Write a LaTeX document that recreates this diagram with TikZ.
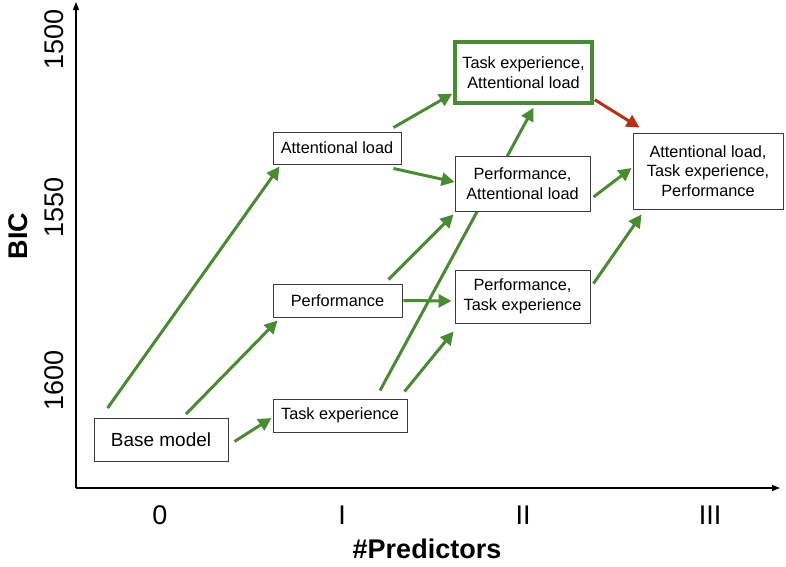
\documentclass[tikz,border=0pt]{standalone}
\usepackage{fontspec}
\setmainfont{Liberation Sans}
\usetikzlibrary{arrows.meta,calc,backgrounds}
\definecolor{arrowgreen}{RGB}{74,138,52}
\definecolor{arrowred}{RGB}{178,50,24}
\definecolor{boxline}{RGB}{60,60,60}
\begin{document}
\begin{tikzpicture}[x=1pt,y=-1pt,
  model/.style={draw=boxline, line width=0.9pt, fill=white, align=center, inner sep=0pt, font=\fontsize{16.3}{19.5}\selectfont},
  best/.style={model, draw=arrowgreen, line width=3.5pt},
  link/.style={draw=arrowgreen, line width=3pt, -{Triangle[length=13pt,width=13pt]}},
  worse/.style={link, draw=arrowred},
  axis/.style={line width=1.3pt, -{Triangle[length=8pt,width=6pt]}},
  tick/.style={font=\fontsize{27}{27}\selectfont},
  axislabel/.style={font=\bfseries\fontsize{27}{27}\selectfont}]
\useasboundingbox (0,0) rectangle (786,566);
\coordinate (o) at (76,488);
\coordinate (ytop) at (76,2);
\coordinate (xend) at (780,488);
\draw[axis] (o) -- (ytop);
\draw[axis] (o) -- (xend);
\node[tick, rotate=90] (y1500) at (54,39) {1500};
\node[tick, rotate=90] (y1550) at (54,207) {1550};
\node[tick, rotate=90] (y1600) at (54,380) {1600};
\node[axislabel, rotate=90] (bic) at (18,236) {BIC};
\node[tick] (x0) at (160,515) {0};
\node[tick] (x1) at (342,515) {I};
\node[tick] (x2) at (523,515) {II};
\node[tick] (x3) at (710,515) {III};
\node[axislabel, anchor=base] (npred) at (427,558) {\#Predictors};
\node[model, minimum width=134pt, minimum height=43pt, font=\fontsize{19}{22}\selectfont] (base) at (161,440) {Base model};
\node[model, minimum width=134pt, minimum height=33pt] (te) at (340,415.5) {Task experience};
\node[model, minimum width=129pt, minimum height=33pt] (perf) at (337.5,300.5) {Performance};
\node[model, minimum width=128pt, minimum height=32pt] (al) at (337,148) {Attentional load};
\node[best, minimum width=137pt, minimum height=61pt] (teal) at (523.5,72.5) {Task experience,\\Attentional load};
\node[model, minimum width=135pt, minimum height=55pt] (pal) at (522.5,183.5) {Performance,\\Attentional load};
\node[model, minimum width=135pt, minimum height=53pt] (pte) at (522.5,296.5) {Performance,\\Task experience};
\node[model, minimum width=150pt, minimum height=76pt] (all) at (708,171) {Attentional load,\\Task experience,\\Performance};
\draw[link] ($(base.north west)+(14,-10)$) -- ($(al.south west)+(7,2)$);
\draw[link] ($(base.north)+(25,-4)$) -- ($(perf.south west)+(5,3)$);
\draw[link] ($(base.east)+(6,1.5)$) -- ($(te.west)+(-1,2.5)$);
\draw[link] ($(al.north east)+(-8,-4)$) -- ($(teal.south west)+(-1,-11)$);
\draw[link] ($(al.south east)+(-8,4)$) -- ($(pal.west)+(0,-1.5)$);
\draw[link] ($(perf.north east)+(-14,-4)$) -- ($(pal.south west)+(-1,3)$);
\draw[link] ($(perf.east)+(1,0)$) -- ($(pte.west)+(-3,4.5)$);
\begin{pgfonlayer}{background}
\draw[link] ($(te.north)+(40,-8)$) -- ($(teal.south)+(10,3)$);
\end{pgfonlayer}
\draw[link] ($(te.north east)+(-3,-7)$) -- ($(pte.south west)+(-1,8)$);
\draw[link] ($(pal.east)+(3,13.5)$) -- ($(all.west)+(-1,-3)$);
\draw[link] ($(pte.north east)+(3,14)$) -- ($(all.south west)+(9,5)$);
\draw[worse] ($(teal.south east)+(1,-5)$) -- ($(all.north west)+(7,-5)$);
\end{tikzpicture}
\end{document}
